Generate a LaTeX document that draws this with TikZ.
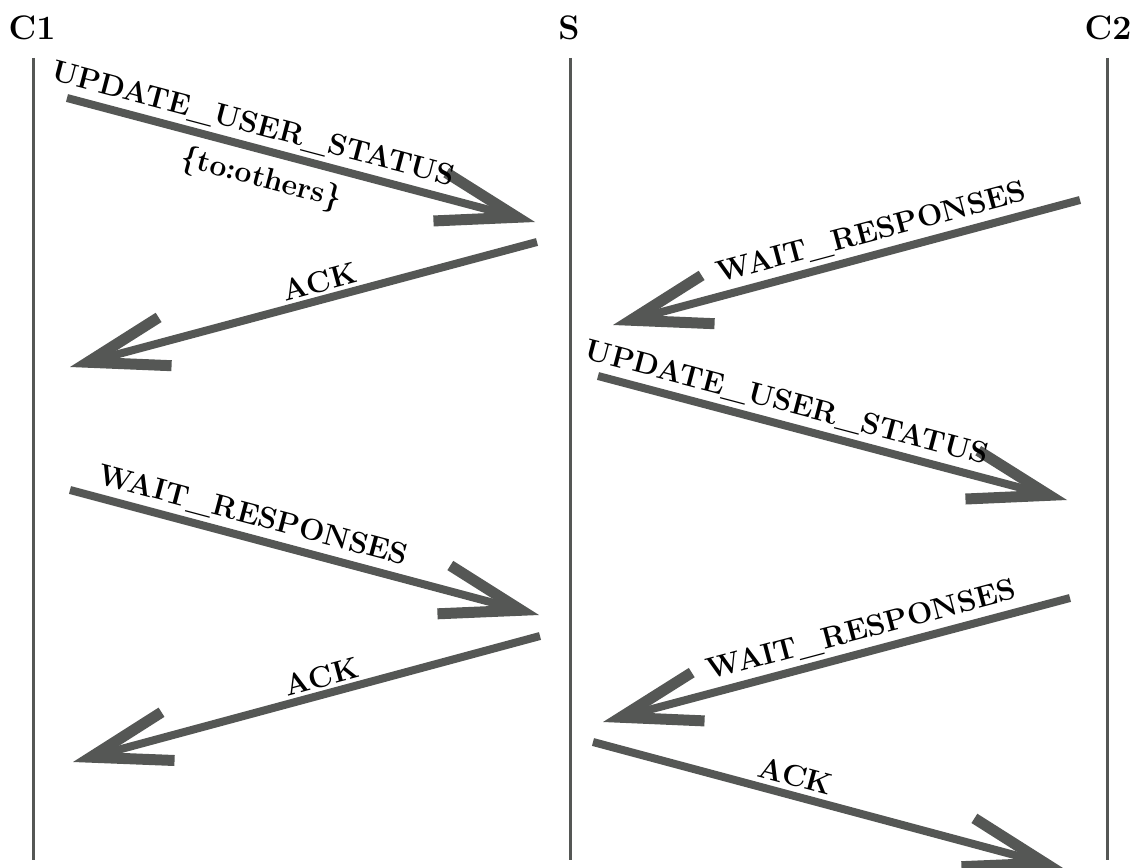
\documentclass[tikz,border=0pt]{standalone}
\usetikzlibrary{arrows.meta}
\definecolor{msggray}{RGB}{85,87,85}
\begin{document}
\begin{tikzpicture}[x=1pt,y=-1pt,
  lifeline/.style={draw=msggray, line width=3pt},
  head/.style={font=\fontsize{34}{40}\selectfont\bfseries, inner sep=0pt},
  msg/.style={draw=msggray, line width=8pt,
    -{Straight Barb[length=80pt,width=50pt,line width=11pt,line join=miter,line cap=butt]}},
  lbl/.style={font=\fontsize{30}{36}\selectfont\bfseries, sloped, inner sep=5pt, text=black},
]
\useasboundingbox (0,0) rectangle (1134,867);
\clip (0,0) rectangle (1134,867);

% participants and lifelines
\node[head] (c1) at (32,28) {C1};
\node[head] (s)  at (569,28) {S};
\node[head] (c2) at (1108,28) {C2};
\coordinate (c1top) at (33,58);   \coordinate (c1bot) at (33,860);
\coordinate (stop)  at (570,58);  \coordinate (sbot)  at (570,860);
\coordinate (c2top) at (1107,58); \coordinate (c2bot) at (1107,860);
\draw[lifeline] (c1top) -- (c1bot);
\draw[lifeline] (stop) -- (sbot);
\draw[lifeline] (c2top) -- (c2bot);

% message end points
\coordinate (m1a) at (67,98);    \coordinate (m1b) at (535,222);
\coordinate (m2a) at (537,242);  \coordinate (m2b) at (70,367);
\coordinate (m3a) at (1080,200); \coordinate (m3b) at (613,325);
\coordinate (m4a) at (598,376);  \coordinate (m4b) at (1067,500);
\coordinate (m5a) at (70,490);   \coordinate (m5b) at (539,615);
\coordinate (m6a) at (540,636);  \coordinate (m6b) at (73,762);
\coordinate (m7a) at (1070,598); \coordinate (m7b) at (603,722);
\coordinate (m8a) at (593,742);  \coordinate (m8b) at (1063,868);

% messages
\draw[msg] (m1a) -- node[lbl,above,pos=0.386] (l1) {UPDATE\_USER\_STATUS}
                    node[lbl,below,pos=0.43,inner sep=10pt] (l1b) {\{to:others\}} (m1b);
\draw[msg] (m2a) -- node[lbl,above,pos=0.456,inner sep=3pt] (l2) {ACK} (m2b);
\draw[msg] (m3a) -- node[lbl,above,pos=0.434] (l3) {WAIT\_RESPONSES} (m3b);
\draw[msg] (m4a) -- node[lbl,above,pos=0.391] (l4) {UPDATE\_USER\_STATUS} (m4b);
\draw[msg] (m5a) -- node[lbl,above,pos=0.378] (l5) {WAIT\_RESPONSES} (m5b);
\draw[msg] (m6a) -- node[lbl,above,pos=0.458,inner sep=3pt] (l6) {ACK} (m6b);
\draw[msg] (m7a) -- node[lbl,above,pos=0.434] (l7) {WAIT\_RESPONSES} (m7b);
\draw[msg] (m8a) -- node[lbl,above,pos=0.42] (l8) {ACK} (m8b);
\end{tikzpicture}
\end{document}
